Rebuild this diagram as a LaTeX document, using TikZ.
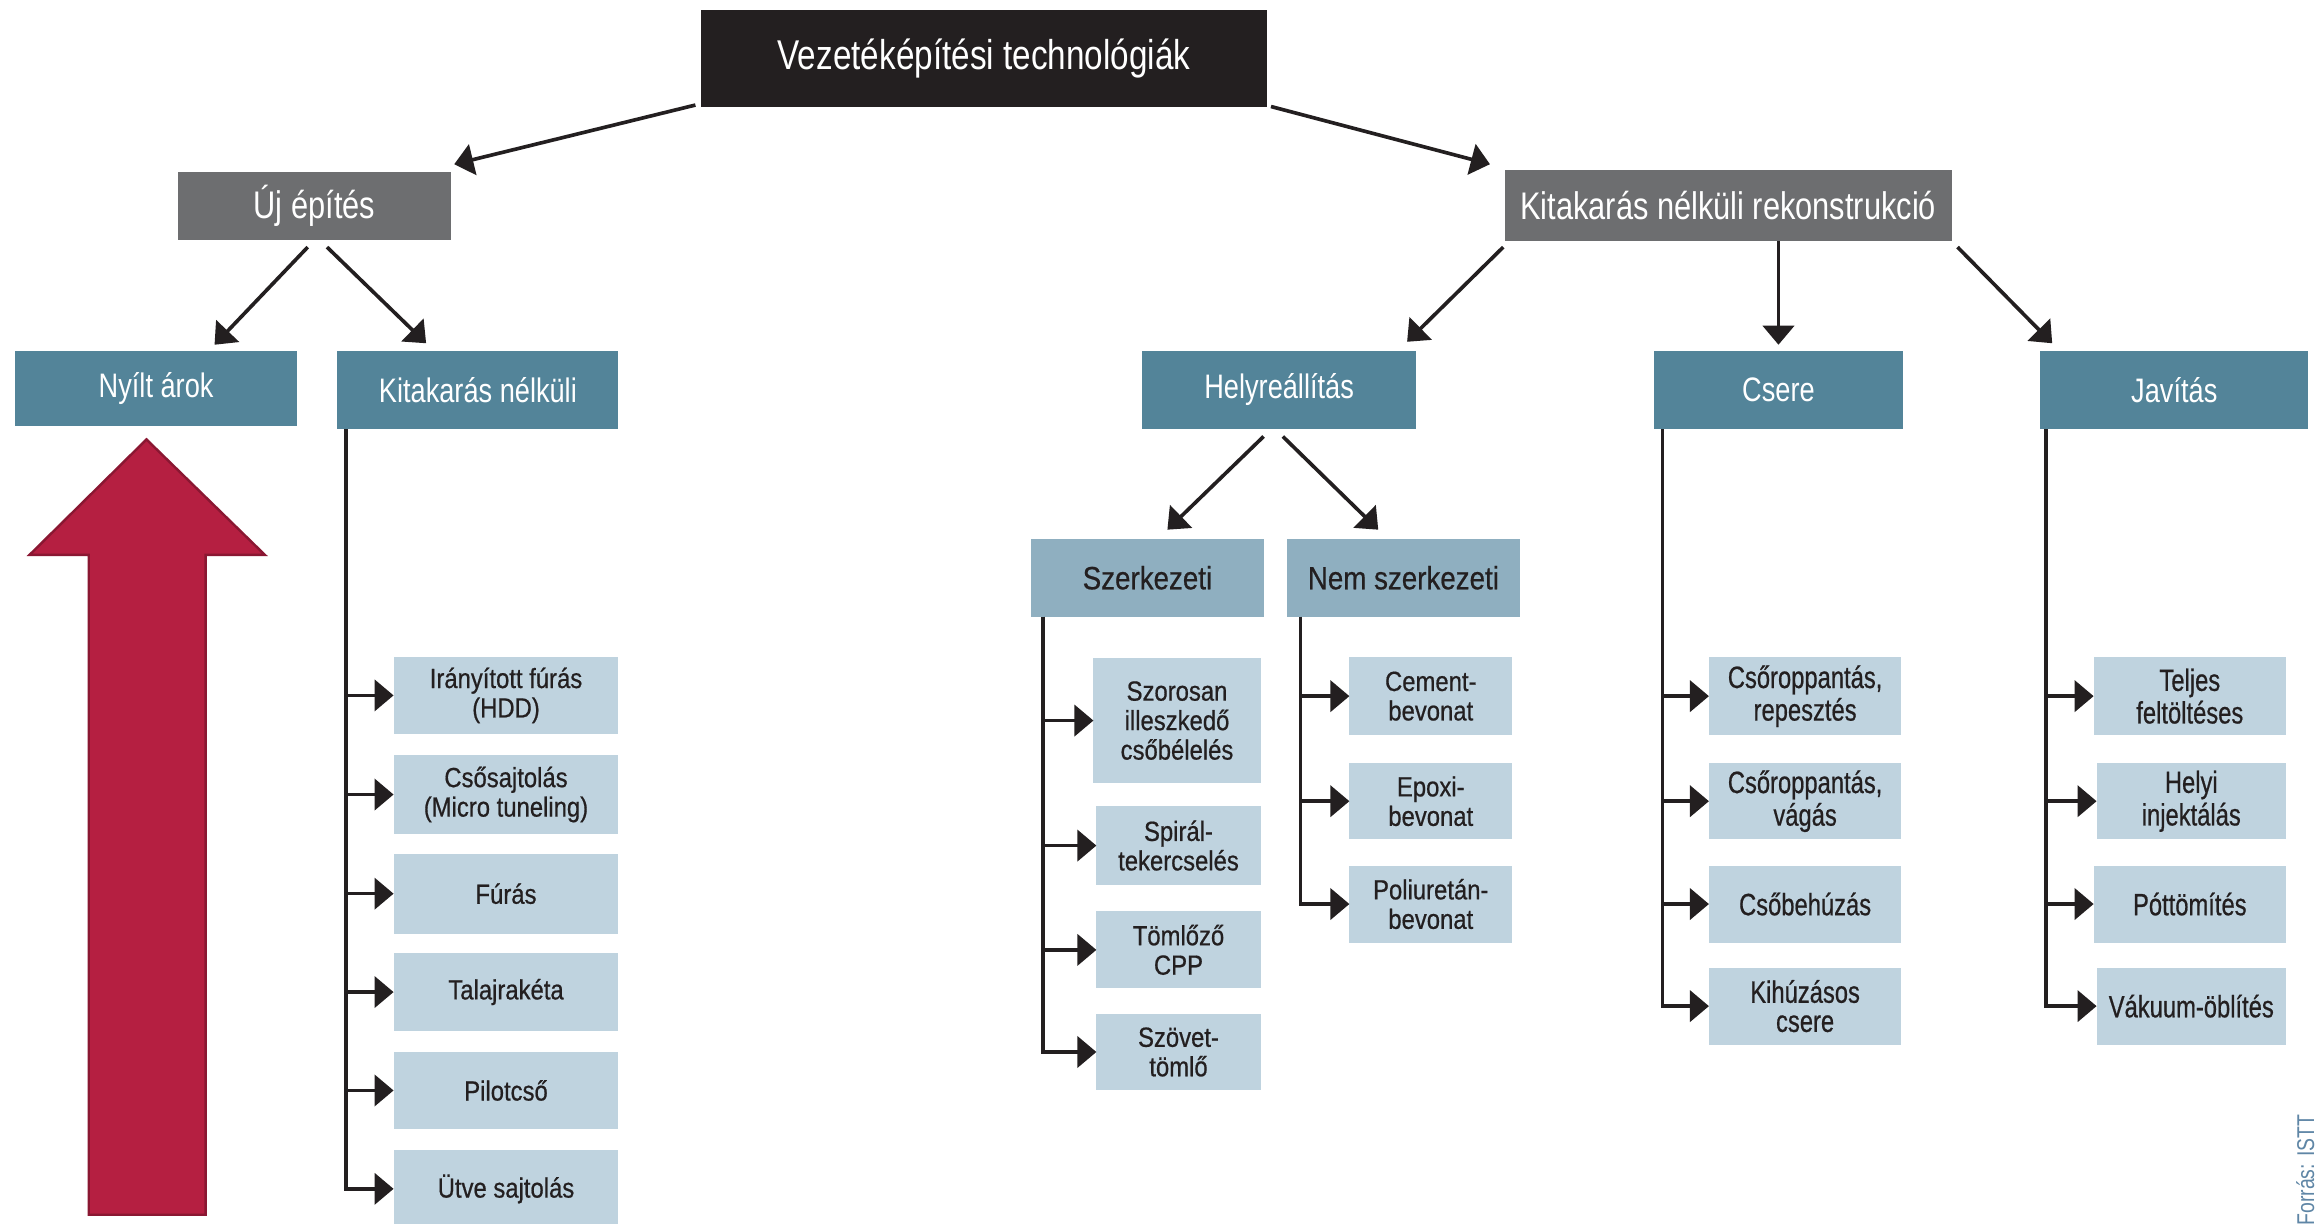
\documentclass[tikz,border=0pt]{standalone}
\usepackage{fontspec}
\setmainfont{Liberation Sans}
\newfontfamily\fA[FakeStretch=0.80]{Liberation Sans}
\newfontfamily\fB[FakeStretch=0.86,FakeBold=0.6]{Liberation Sans}
\newfontfamily\fC[FakeStretch=0.77,FakeBold=0.6]{Liberation Sans}
\usetikzlibrary{arrows.meta,calc}
\definecolor{topc}{HTML}{231F20}
\definecolor{greyc}{HTML}{6D6E70}
\definecolor{bluec}{HTML}{538499}
\definecolor{midc}{HTML}{8FAFC0}
\definecolor{leafc}{HTML}{BFD3DF}
\definecolor{darkc}{HTML}{231F20}
\definecolor{redc}{HTML}{B51F41}
\definecolor{redd}{HTML}{8A1732}
\definecolor{srcc}{HTML}{5F86A6}
\newcommand\bx[7]{\node[#6, minimum width={(#4-#2)*0.015cm}, minimum height={(#5-#3)*0.015cm}] (#1) at ({(#2+#4)/2},{(#3+#5)/2}) {#7};}
\begin{document}
\begin{tikzpicture}[x=0.015cm,y=-0.015cm,
  box/.style={rectangle, inner sep=0pt, outer sep=0pt, align=center},
  topbox/.style={box, fill=topc, text=white, font=\fA\fontsize{12}{13}\selectfont},
  greybox/.style={box, fill=greyc, text=white, font=\fA\fontsize{11.1}{12}\selectfont},
  bluebox/.style={box, fill=bluec, text=white, font=\fA\fontsize{9.8}{11}\selectfont},
  midbox/.style={box, fill=midc, text=darkc, font=\fB\fontsize{9.3}{10}\selectfont},
  leafL/.style={box, fill=leafc, text=darkc, font=\fB\fontsize{8}{8.5}\selectfont},
  leafR/.style={box, fill=leafc, text=darkc, font=\fC\fontsize{8.9}{8.4}\selectfont},
  conn/.style={line width=1.05pt, draw=darkc, -{Triangle[length=5.5pt,width=9pt]}},
  bigarrow/.style={fill=redc, draw=redd, line width=0.7pt, line join=miter}
]
\fill[white] (0,0) rectangle (1568,827);
\useasboundingbox (0,0) rectangle (1568,827);

% red arrow
\draw[bigarrow] (60,821) -- (60,375) -- (20,375) -- (99,297) -- (179,375) -- (139,375) -- (139,821) -- cycle;

% main boxes
\bx{top}{474}{7}{856}{72}{topbox}{Vezetéképítési technológiák}
\bx{uj}{120}{116}{305}{162}{greybox}{Új építés}
\bx{knr}{1017}{115}{1319}{163}{greybox}{Kitakarás nélküli rekonstrukció}
\bx{nyilt}{10}{237}{201}{288}{bluebox}{Nyílt árok}
\bx{kn}{228}{237}{418}{290}{bluebox}{Kitakarás nélküli}
\bx{hely}{772}{237}{957}{290}{bluebox}{Helyreállítás}
\bx{csere}{1118}{237}{1286}{290}{bluebox}{Csere}
\bx{jav}{1379}{237}{1560}{290}{bluebox}{Javítás}
\bx{szerk}{697}{364}{854}{417}{midbox}{Szerkezeti}
\bx{nem}{870}{364}{1027}{417}{midbox}{Nem szerkezeti}

% Kitakarás nélküli leaves
\bx{k1}{266}{444}{418}{496}{leafL}{Irányított fúrás\\(HDD)}
\bx{k2}{266}{510}{418}{564}{leafL}{Csősajtolás\\(Micro tuneling)}
\bx{k3}{266}{577}{418}{631}{leafL}{Fúrás}
\bx{k4}{266}{644}{418}{697}{leafL}{Talajrakéta}
\bx{k5}{266}{711}{418}{763}{leafL}{Pilotcső}
\bx{k6}{266}{777}{418}{830}{leafL}{Ütve sajtolás}

% Szerkezeti leaves
\bx{s1}{739}{445}{852}{529}{leafL}{Szorosan\\illeszkedő\\csőbélelés}
\bx{s2}{741}{545}{852}{598}{leafL}{Spirál-\\tekercselés}
\bx{s3}{741}{616}{852}{668}{leafL}{Tömlőző\\CPP}
\bx{s4}{741}{685}{852}{737}{leafL}{Szövet-\\tömlő}

% Nem szerkezeti leaves
\bx{n1}{912}{444}{1022}{497}{leafL}{Cement-\\bevonat}
\bx{n2}{912}{516}{1022}{567}{leafL}{Epoxi-\\bevonat}
\bx{n3}{912}{585}{1022}{637}{leafL}{Poliuretán-\\bevonat}

% Csere leaves
\bx{c1}{1155}{444}{1285}{497}{leafR}{Csőroppantás,\\repesztés}
\bx{c2}{1155}{516}{1285}{567}{leafR}{Csőroppantás,\\vágás}
\bx{c3}{1155}{585}{1285}{637}{leafR}{Csőbehúzás}
\bx{c4}{1155}{654}{1285}{706}{leafR}{Kihúzásos\\csere}

% Javítás leaves
\bx{j1}{1415}{444}{1545}{497}{leafR}{Teljes\\feltöltéses}
\bx{j2}{1417}{516}{1545}{567}{leafR}{Helyi\\injektálás}
\bx{j3}{1415}{585}{1545}{637}{leafR}{Póttömítés}
\bx{j4}{1417}{654}{1545}{706}{leafR}{Vákuum-öblítés}

% source credit
\node[rotate=90, anchor=east, inner sep=0pt, text=srcc, font=\fA\fontsize{7}{8}\selectfont] (src) at (1558,753) {Forrás: ISTT};

% tree connectors
\draw[conn] ($(top.south west)+(-4,-1)$) -- ($(uj.north east)+(2,-5)$);
\draw[conn] ($(top.south east)+(3,0)$) -- ($(knr.north west)+(-10,-4)$);
\draw[conn] ($(uj.south)+(-4.5,5)$) -- ($(nyilt.north)+(39.5,-4)$);
\draw[conn] ($(uj.south)+(8.5,5)$) -- ($(kn.north)+(-35,-5)$);
\draw[conn] ($(knr.south west)+(-1,4)$) -- ($(hely.north east)+(-6,-6)$);
\draw[conn] (csere.north |- knr.south) -- ($(csere.north)+(0,-4)$);
\draw[conn] ($(knr.south east)+(4,4)$) -- ($(jav.north west)+(8,-5)$);
\draw[conn] ($(hely.south)+(-10.5,5)$) -- ($(szerk.north)+(13.5,-6)$);
\draw[conn] ($(hely.south)+(2.5,5)$) -- ($(nem.north)+(-17,-6)$);

% leaf connectors
\foreach \c in {k1,k2,k3,k4,k5,k6} \draw[conn] ($(kn.south west)+(6,0)$) |- (\c.west);
\foreach \c in {s1,s2,s3,s4} \draw[conn] ($(szerk.south west)+(8,0)$) |- (\c.west);
\foreach \c in {n1,n2,n3} \draw[conn] ($(nem.south west)+(9,0)$) |- (\c.west);
\foreach \c in {c1,c2,c3,c4} \draw[conn] ($(csere.south west)+(5.5,0)$) |- (\c.west);
\foreach \c in {j1,j2,j3,j4} \draw[conn] ($(jav.south west)+(4,0)$) |- (\c.west);
\end{tikzpicture}
\end{document}
